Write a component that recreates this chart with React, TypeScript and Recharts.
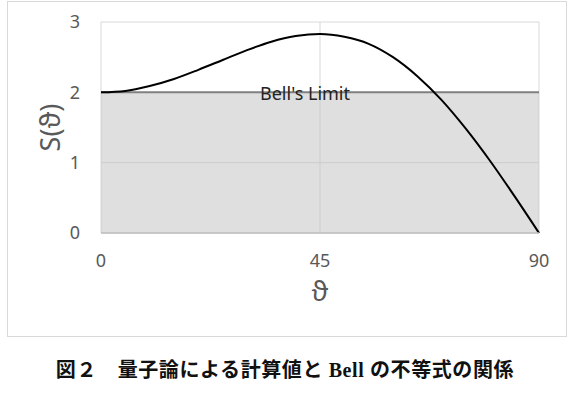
import {
  ComposedChart,
  Line,
  Area,
  XAxis,
  YAxis,
  CartesianGrid,
  ReferenceLine,
  Label
} from "recharts";

// angle in degrees
const angles = [0, 5, 10, 15, 20, 25, 30, 35, 40, 45, 50, 55, 60, 65, 70, 75, 80, 85, 90];
// quantum prediction S(θ)
const sValues = [
  2.0, 2.02, 2.09, 2.19, 2.32, 2.46, 2.6, 2.72, 2.8, 2.83, 2.79, 2.69, 2.5, 2.23,
  1.89, 1.48, 1.02, 0.52, 0
];
// classical bound
const bellLimit = 2;

const xTicks = [0, 45, 90];
const minorTicks = [15, 30, 60, 75];
const yTicks = [0, 1, 2, 3];

const data = angles.map((a, i) => ({ angle: a, s: sValues[i], bell: bellLimit }));

const axisFont = { fontFamily: "'Noto Sans', sans-serif", fontSize: 18, fill: "#595959" };

export default function App() {
  return (
    <div
      style={{
        position: "absolute",
        left: 0,
        top: 0,
        width: 570,
        height: 415,
        background: "#fff"
      }}
    >
      <div
        style={{
          position: "absolute",
          left: 7,
          top: 1,
          width: 558,
          height: 334,
          border: "1px solid #d9d9d9"
        }}
      >
        <ComposedChart
          width={558}
          height={334}
          data={data}
          margin={{ top: 20, right: 27, bottom: 33, left: 0 }}
        >
          <CartesianGrid stroke="#d9d9d9" strokeWidth={1} />
          <XAxis
            dataKey="angle"
            type="number"
            domain={[0, 90]}
            ticks={xTicks}
            tickLine={false}
            tickSize={0}
            tickMargin={21}
            axisLine={{ stroke: "#bfbfbf", strokeWidth: 1.5 }}
            tick={axisFont}
            height={70}
          >
            <Label
              value="ϑ"
              position="insideBottom"
              offset={2}
              style={{ fontFamily: "'Noto Sans', sans-serif", fontSize: 27, fill: "#595959" }}
            />
          </XAxis>
          <XAxis
            xAxisId="minor"
            dataKey="angle"
            type="number"
            domain={[0, 90]}
            ticks={minorTicks}
            mirror
            height={0}
            axisLine={false}
            tickSize={4}
            tickLine={{ stroke: "#bfbfbf" }}
            tick={() => <g />}
          />
          <YAxis
            type="number"
            domain={[0, 3]}
            ticks={yTicks}
            width={93}
            axisLine={false}
            tickLine={false}
            tickSize={0}
            tickMargin={21}
            tick={axisFont}
          >
            <Label
              value="S(ϑ)"
              angle={-90}
              position="insideLeft"
              offset={42}
              style={{
                textAnchor: "middle",
                fontFamily: "'Noto Sans', sans-serif",
                fontSize: 27,
                fill: "#595959"
              }}
            />
          </YAxis>
          <Line
            type="monotone"
            dataKey="s"
            stroke="#000"
            strokeWidth={2}
            dot={false}
            isAnimationActive={false}
          />
          <ReferenceLine
            y={bellLimit}
            stroke="none"
            label={{
              value: "Bell's Limit",
              position: "insideLeft",
              offset: 159,
              dy: 1,
              style: { fontFamily: "'Noto Sans', sans-serif", fontSize: 18, fill: "#222" }
            }}
          />
          <Area
            type="linear"
            dataKey="bell"
            stroke="#808080"
            strokeWidth={2}
            fill="#bfbfbf"
            fillOpacity={0.5}
            isAnimationActive={false}
          />
        </ComposedChart>
      </div>
      <div
        style={{
          position: "absolute",
          left: 0,
          top: 354,
          width: 570,
          textAlign: "center",
          fontFamily: "'Liberation Serif', 'Noto Sans CJK JP', serif",
          fontSize: 20,
          letterSpacing: 0.6,
          fontWeight: 600,
          color: "#111"
        }}
      >
        図２　量子論による計算値と Bell の不等式の関係
      </div>
    </div>
  );
}
